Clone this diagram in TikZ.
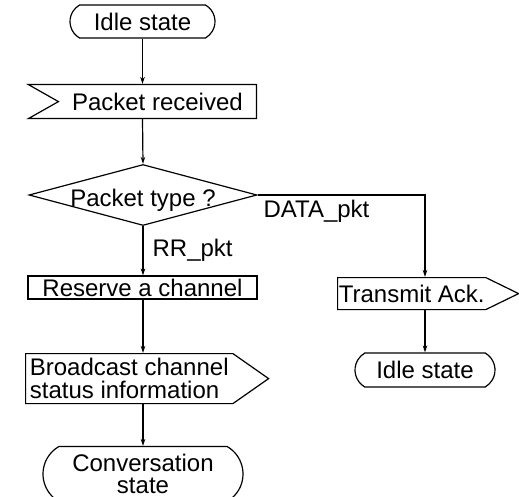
\documentclass[tikz,border=0pt]{standalone}
\usepackage{fontspec}
\setmainfont{Liberation Sans}
\usetikzlibrary{shapes.geometric, shapes.misc, shapes.symbols, arrows.meta}

\begin{document}
\begin{tikzpicture}[x=1pt, y=-1pt, line width=1.2pt,
    >={Stealth[length=7pt, width=4.5pt]},
    every node/.style={font=\fontsize{24}{22.5}\selectfont, inner sep=0pt},
    terminal/.style={draw, rounded rectangle, rounded rectangle arc length=120, align=center},
    process/.style={draw, rectangle},
    decision/.style={draw, diamond, aspect=3.7, inner sep=-10pt},
    inbox/.style={draw, signal, signal to=nowhere, signal from=west},
    outbox/.style={draw, signal, signal to=east, align=left}]

    \useasboundingbox (0,0) rectangle (519,497);

    % main branch
    \node[terminal, minimum width=145pt, minimum height=33pt] (idleA) at (142.5,21.5) {Idle state};
    \node[inbox, signal pointer angle=59, minimum width=228pt, minimum height=34pt,
          anchor=north east] (pktIn) at (257,84) {Packet received};
    \node[decision, minimum width=228pt, minimum height=61pt,
          text height=29pt, text depth=5pt] (pktType) at (143,195) {Packet type ?};
    \node[process, minimum width=229pt, minimum height=23pt] (reserve) at (142.5,287.5) {Reserve a channel};
    \node[outbox, signal pointer angle=70, minimum width=243pt, minimum height=50pt,
          anchor=north west] (bcast) at (25,353) {Broadcast channel\\status information};
    \node[terminal, minimum width=200pt, minimum height=55pt] (convers) at (143,474) {Conversation\\state};

    % data branch
    \node[outbox, signal pointer angle=52, minimum width=181pt, minimum height=32pt,
          anchor=north west] (ack) at (337,277) {Transmit Ack.};
    \node[terminal, minimum width=140pt, minimum height=34pt] (idleB) at (425,370) {Idle state};

    % branch labels
    \node[anchor=base west] (rrLbl) at (152,256) {RR\_pkt};
    \node[anchor=base west] (dataLbl) at (263,217) {DATA\_pkt};

    \draw[->] (idleA.south) -- (idleA.south |- pktIn.north);
    \draw[->] (idleA.south |- pktIn.south) -- (pktType.north);
    \draw[->] (pktType.south) -- (pktType.south |- reserve.north);
    \draw[->] (pktType.south |- reserve.south) -- (pktType.south |- bcast.north);
    \draw[->] (pktType.south |- bcast.south) -- (pktType.south |- convers.north);
    \draw[->] (pktType.east) -| (idleB.north |- ack.north);
    \draw[->] (idleB.north |- ack.south) -- (idleB.north);
\end{tikzpicture}
\end{document}
